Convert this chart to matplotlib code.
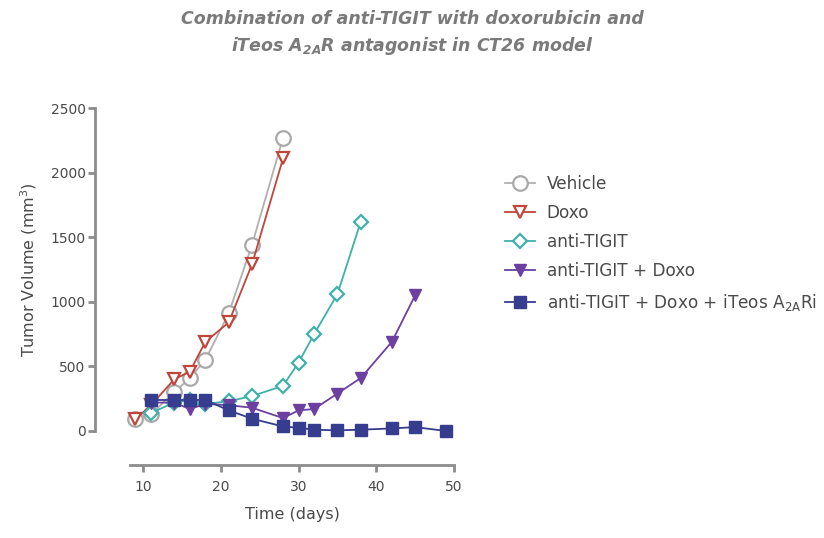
import matplotlib
matplotlib.use("Agg")
import matplotlib.pyplot as plt

# values (tumor volume, mm^3)
vehicle_days = [9, 11, 14, 16, 18, 21, 24, 28]
vehicle_vol = [90, 130, 300, 410, 550, 910, 1440, 2270]

doxo_days = [9, 11, 14, 16, 18, 21, 24, 28]
doxo_vol = [90, 200, 400, 460, 690, 840, 1290, 2110]

tigit_days = [11, 14, 16, 18, 21, 24, 28, 30, 32, 35, 38]
tigit_vol = [140, 220, 240, 210, 230, 270, 350, 530, 750, 1060, 1620]

tigit_doxo_days = [11, 14, 16, 18, 21, 24, 28, 30, 32, 35, 38, 42, 45]
tigit_doxo_vol = [220, 220, 170, 210, 200, 180, 100, 160, 170, 290, 410, 690, 1050]

triple_days = [11, 14, 16, 18, 21, 24, 28, 30, 32, 35, 38, 42, 45, 49]
triple_vol = [240, 240, 240, 240, 160, 95, 35, 25, 10, 5, 10, 20, 30, 0]

labels = ["Vehicle", "Doxo", "anti-TIGIT", "anti-TIGIT + Doxo",
          r"anti-TIGIT + Doxo + iTeos A$_{\mathregular{2A}}$Ri"]

AX_GREY = "#8c8c8c"
TXT = "#4a4a4a"

fig = plt.figure(figsize=(8.24, 5.38), dpi=100)
ax = fig.add_axes([130 / 824, 1 - 431 / 538, 324 / 824, 323 / 538])

common = dict(lw=1.3, clip_on=False, zorder=3)
ax.plot(vehicle_days, vehicle_vol, color="#b0b0b0", marker="o", ms=10.5,
        mfc="white", mec="#a9a9a9", mew=1.6, label=labels[0], **common)
ax.plot(doxo_days, doxo_vol, color="#c0453a", marker="v", ms=9,
        mfc="white", mec="#c0453a", mew=1.6, label=labels[1], **common)
ax.plot(tigit_days, tigit_vol, color="#3fb0ab", marker="D", ms=7.5,
        mfc="white", mec="#3fb0ab", mew=1.6, label=labels[2], **common)
ax.plot(tigit_doxo_days, tigit_doxo_vol, color="#6c3fa0", marker="v", ms=9,
        mfc="#6c3fa0", mec="#6c3fa0", label=labels[3], **common)
ax.plot(triple_days, triple_vol, color="#363c8e", marker="s", ms=8.5,
        mfc="#363c8e", mec="#363c8e", label=labels[4], **common)

ax.set_xlim(8.3, 50)
ax.set_ylim(0, 2500)
ax.set_xticks([10, 20, 30, 40, 50])
ax.set_yticks([0, 500, 1000, 1500, 2000, 2500])

for s in ("top", "right"):
    ax.spines[s].set_visible(False)
ax.spines["left"].set_position(("outward", 25))
ax.spines["bottom"].set_position(("outward", 24.5))
for s in ("left", "bottom"):
    ax.spines[s].set_color(AX_GREY)
    ax.spines[s].set_linewidth(2)
ax.tick_params(colors=AX_GREY, width=2, length=5, labelcolor=TXT, labelsize=10)
ax.tick_params(axis="y", pad=2)
ax.tick_params(axis="x", pad=6)

ax.set_xlabel("Time (days)", color=TXT, fontsize=11.5, labelpad=9)
ax.set_ylabel(r"Tumor Volume (mm$^{\mathregular{3}}$)", color=TXT, fontsize=11.5,
              labelpad=8)

fig.text(0.5, 0.965, "Combination of anti-TIGIT with doxorubicin and",
         ha="center", va="center", fontsize=12.5, style="italic",
         weight="bold", color="#7a7a7a")
fig.text(0.5, 0.915, r"iTeos A$_{\mathregular{2A}}$R antagonist in CT26 model",
         ha="center", va="center", fontsize=12.5, style="italic",
         weight="bold", color="#7a7a7a")

leg = fig.legend(loc="upper left", bbox_to_anchor=(0.594, 0.703), frameon=False,
                 fontsize=12.15, handlelength=1.8, labelspacing=0.66,
                 handletextpad=0.7)
for t in leg.get_texts():
    t.set_color(TXT)

fig.savefig("out.png", dpi=100)
